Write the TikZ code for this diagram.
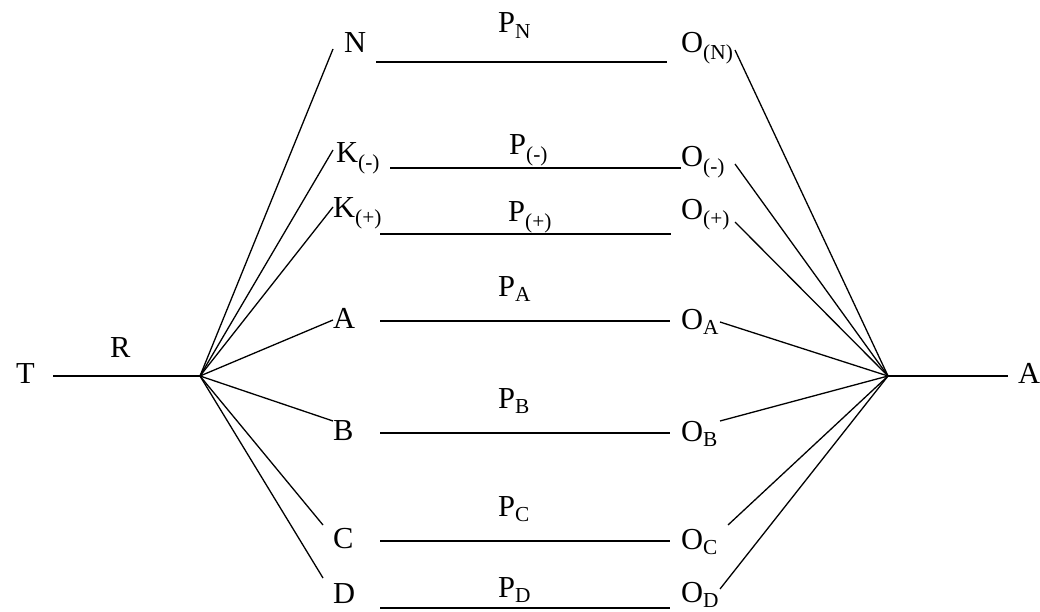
\documentclass[tikz,border=0pt]{standalone}
\usepackage{fontspec}
\setmainfont{Liberation Serif}
\newcommand{\sbx}[1]{\textsubscript{#1}}
\begin{document}
\begin{tikzpicture}[x=1pt,y=-1pt,
  lbl/.style={anchor=base west,inner sep=0pt,font=\fontsize{30.5}{34}\selectfont},
  conn/.style={line width=1.3pt}]
\useasboundingbox[fill=white] (0,0) rectangle (1040,612);
% hubs
\coordinate (hL) at (200,376);
\coordinate (hR) at (888,376);
% outer labels
\node[lbl] (T) at (16,383) {T};
\node[lbl] (R) at (110,357) {R};
\node[lbl] (Aout) at (1018,383) {A};
\coordinate (Tend) at (53,376);
\coordinate (Aend) at (1008,376);
% left labels
\node[lbl] (N) at (344,53) {N};
\node[lbl] (Km) at (336,163) {K\sbx{(-)}};
\node[lbl] (Kp) at (333,218) {K\sbx{(+)}};
\node[lbl] (A) at (333,328) {A};
\node[lbl] (B) at (333,440) {B};
\node[lbl] (C) at (333,548) {C};
\node[lbl] (D) at (333,603) {D};
% right labels
\node[lbl] (ON) at (681,53) {O\sbx{(N)}};
\node[lbl] (Om) at (681,167) {O\sbx{(-)}};
\node[lbl] (Op) at (681,219) {O\sbx{(+)}};
\node[lbl] (OA) at (681,329) {O\sbx{A}};
\node[lbl] (OB) at (681,441) {O\sbx{B}};
\node[lbl] (OC) at (681,549) {O\sbx{C}};
\node[lbl] (OD) at (681,602) {O\sbx{D}};
% P labels
\node[lbl] (PN) at (498,33) {P\sbx{N}};
\node[lbl] (Pm) at (509,155) {P\sbx{(-)}};
\node[lbl] (Pp) at (508,222) {P\sbx{(+)}};
\node[lbl] (PA) at (498,296) {P\sbx{A}};
\node[lbl] (PB) at (498,408) {P\sbx{B}};
\node[lbl] (PC) at (498,516) {P\sbx{C}};
\node[lbl] (PD) at (498,597) {P\sbx{D}};
% left end points
\coordinate (eN) at (333,49);
\coordinate (eKm) at (333,150);
\coordinate (eKp) at (333,207);
\coordinate (eA) at (333,320);
\coordinate (eB) at (333,421);
\coordinate (eC) at (323,525);
\coordinate (eD) at (323,578);
% right end points
\coordinate (fN) at (735,50);
\coordinate (fm) at (735,164);
\coordinate (fp) at (735,222);
\coordinate (fA) at (720,322);
\coordinate (fB) at (720,421);
\coordinate (fC) at (728,525);
\coordinate (fD) at (720,589);
% horizontal line ends
\coordinate (hN1) at (376,62);  \coordinate (hN2) at (667,62);
\coordinate (hm1) at (390,168); \coordinate (hm2) at (681,168);
\coordinate (hp1) at (380,234); \coordinate (hp2) at (671,234);
\coordinate (hA1) at (380,321); \coordinate (hA2) at (670,321);
\coordinate (hB1) at (380,433); \coordinate (hB2) at (670,433);
\coordinate (hC1) at (380,541); \coordinate (hC2) at (670,541);
\coordinate (hD1) at (380,608); \coordinate (hD2) at (670,608);
% connectors
\draw[conn] (Tend) -- (hL);
\draw[conn] (hR) -- (Aend);
\foreach \e in {eN,eKm,eKp,eA,eB,eC,eD} {\draw[conn] (hL) -- (\e);}
\foreach \f in {fN,fm,fp,fA,fB,fC,fD} {\draw[conn] (hR) -- (\f);}
\foreach \r in {N,m,p,A,B,C,D} {\draw[conn] (h\r1) -- (h\r2);}
\end{tikzpicture}
\end{document}
